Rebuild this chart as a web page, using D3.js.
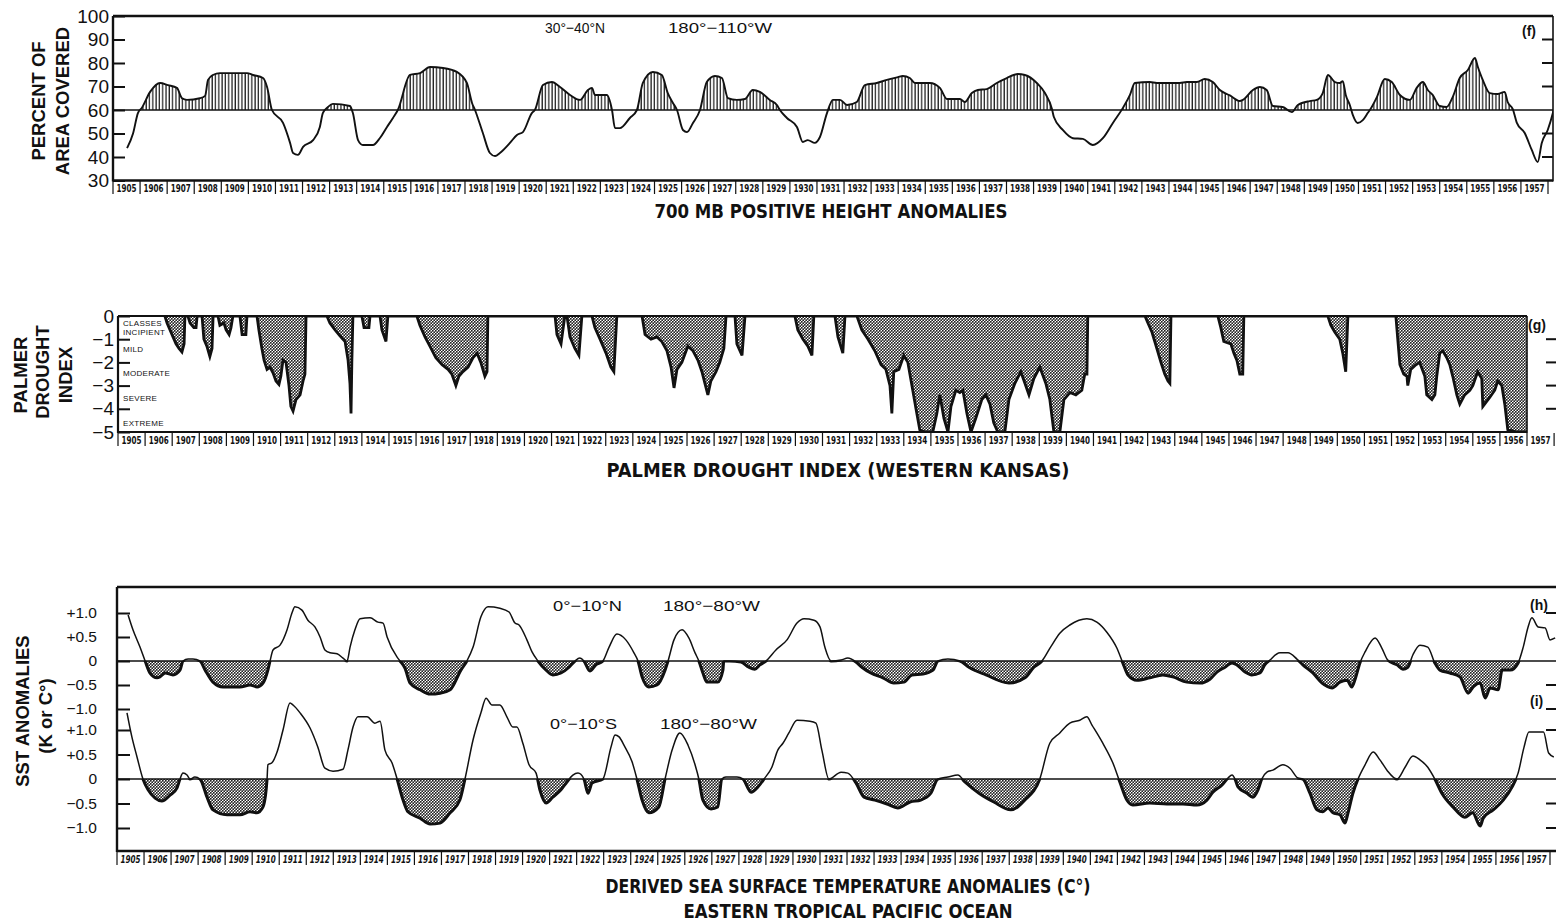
<!DOCTYPE html>
<html>
<head>
<meta charset="utf-8">
<script src="https://cdn.jsdelivr.net/npm/d3@7"></script>
<style>
  body { margin: 0; background: #fff; }
  svg { display: block; }
  .sans { font-family: "Liberation Sans", Arial, Helvetica, sans-serif; fill: #111; }
  .narrow { font-family: "Liberation Sans Narrow", "DejaVu Sans Condensed", "Liberation Sans", sans-serif; fill: #111; }
</style>
</head>
<body>
<svg id="chart" width="1556" height="922"></svg>
<script>
// ---------------------------------------------------------------
// Data
// ---------------------------------------------------------------
const yearLabels = [1905,1906,1907,1908,1909,1910,1911,1912,1913,1914,1915,1916,1917,1918,1919,
  1920,1921,1922,1923,1924,1925,1926,1927,1928,1929,1930,1931,1932,1933,1934,1935,1936,1937,1938,
  1939,1940,1941,1942,1943,1944,1945,1946,1947,1948,1949,1950,1951,1952,1953,1954,1955,1956,1957];

// (f) percent of area 30-40N, 180-110W covered by positive 700 mb height anomalies  [year, percent]
const areaCovered = [
  [1905.52,43.8],[1905.74,50],[1905.92,58.7],[1906.07,61],[1906.37,67.7],[1906.74,71.5],[1907.03,70.6],
  [1907.36,69.4],[1907.55,65],[1907.73,64.3],[1908.21,65],[1908.4,66],[1908.51,72.8],[1908.69,74.9],
  [1908.95,75.7],[1909.69,75.7],[1909.95,75.7],[1910.17,74.9],[1910.54,73.6],[1910.69,69.8],[1910.87,60],
  [1911.28,54.5],[1911.54,46],[1911.65,41.7],[1911.83,40.9],[1912.02,44.3],[1912.39,47.2],[1912.64,52.8],
  [1912.75,58.7],[1912.94,61.3],[1913.12,62.6],[1913.75,61.7],[1913.86,58.7],[1914.05,47.2],[1914.23,45.1],
  [1914.6,45.1],[1914.86,48.1],[1915.12,52.8],[1915.34,56.6],[1915.52,60],[1915.97,74.9],[1916.34,75.7],
  [1916.71,78.3],[1917.19,77.9],[1917.7,76.2],[1918.07,71.5],[1918.26,63],[1918.37,60],[1918.66,50.2],
  [1918.92,41.7],[1919.11,40.4],[1919.29,41.7],[1919.66,46],[1919.92,49.4],[1920.14,50.6],[1920.47,58.7],
  [1920.58,60],[1920.88,70.6],[1921.21,71.9],[1921.51,69.8],[1921.88,66.4],[1922.25,64.3],[1922.54,68.5],
  [1922.69,69.4],[1922.8,66.4],[1923.24,66.4],[1923.43,60],[1923.54,52.3],[1923.72,52.3],[1924.09,56.6],
  [1924.35,60],[1924.57,71.5],[1924.94,76.2],[1925.27,74.9],[1925.49,67.2],[1925.68,63],[1925.83,60],
  [1926.05,51.5],[1926.2,50.6],[1926.42,54.5],[1926.68,60],[1926.93,71.9],[1927.23,74.5],[1927.49,73.6],
  [1927.71,65.1],[1928.04,64.3],[1928.34,64.7],[1928.63,68.5],[1928.89,67.7],[1929.26,64.3],[1929.52,62.1],
  [1929.63,60],[1929.89,56.6],[1930.26,52.8],[1930.48,46.4],[1930.66,47.2],[1930.92,46],[1931.11,48.5],
  [1931.37,58.7],[1931.59,64.3],[1931.85,64.3],[1932.11,62.1],[1932.47,63.4],[1932.77,70.6],[1933.21,71.5],
  [1933.58,72.8],[1933.99,74],[1934.17,74.5],[1934.43,73.6],[1934.62,71.5],[1935.17,71.5],[1935.54,69.4],
  [1935.8,64.7],[1936.28,64.7],[1936.46,63.4],[1936.72,67.2],[1936.94,68.5],[1937.27,68.9],[1937.64,71.5],
  [1938.01,73.6],[1938.42,75.3],[1938.68,74.9],[1939.12,71.5],[1939.42,67.2],[1939.68,60.4],[1939.75,57],
  [1940.08,51.5],[1940.45,48],[1940.82,47.7],[1941.19,45.1],[1941.56,48],[1941.93,54.5],[1942.3,60.9],
  [1942.56,66.4],[1942.74,71.5],[1943.29,71.9],[1943.55,71.5],[1944.4,71.5],[1944.66,71.9],[1945.03,71.9],
  [1945.32,73.2],[1945.62,71.9],[1945.88,68.5],[1946.25,66.2],[1946.62,63.8],[1946.73,64.3],[1947.1,68.5],
  [1947.36,69.8],[1947.61,68.5],[1947.84,61.7],[1948.2,61.3],[1948.54,59.1],[1948.76,62.1],[1949.2,63.8],
  [1949.46,64.3],[1949.68,67.2],[1949.87,74.9],[1950.13,71.9],[1950.31,71.5],[1950.42,72.3],[1950.53,66.4],
  [1950.68,62.1],[1950.79,57.9],[1950.97,54.5],[1951.16,55.7],[1951.34,58.7],[1951.49,61.3],[1951.68,65.5],
  [1951.97,73.2],[1952.23,71.9],[1952.53,66.4],[1952.9,64.3],[1953.15,69.4],[1953.38,71.9],[1953.56,68.5],
  [1953.74,66.4],[1954,61.7],[1954.26,61.3],[1954.48,65.5],[1954.74,73.6],[1955.04,77],[1955.3,82.1],
  [1955.41,78.3],[1955.59,72.8],[1955.85,67.2],[1956.15,66.8],[1956.4,67.7],[1956.51,63.4],[1956.7,60.4],
  [1956.85,54.5],[1957.14,50.2],[1957.4,43],[1957.62,37.9],[1957.77,46],[1957.99,51.5],[1958.18,58.7],
  [1958.25,62.1]
];

// (g) Palmer drought index, western Kansas  [year, index]; 0 between drought spells
const pdi = [
  [1906.73,0],[1906.81,-0.3],[1906.92,-0.6],[1907.03,-0.9],[1907.14,-1.2],[1907.25,-1.4],[1907.36,-1.55],[1907.44,-1.2],[1907.47,0],
  [1907.58,0],[1907.66,-0.3],[1907.8,-0.5],[1907.88,-0.5],[1907.92,0],
  [1908.1,0],[1908.17,-1.0],[1908.28,-1.3],[1908.39,-1.75],[1908.47,-1.4],[1908.51,0],
  [1908.69,0],[1908.76,-0.4],[1908.91,-0.3],[1908.99,-0.6],[1909.1,-0.8],[1909.17,-0.5],[1909.24,0],
  [1909.5,0],[1909.58,-0.8],[1909.72,-0.8],[1909.76,0],
  [1910.13,0],[1910.2,-0.6],[1910.31,-1.4],[1910.39,-1.9],[1910.5,-2.3],[1910.61,-2.2],[1910.72,-2.45],[1910.83,-2.8],
  [1910.94,-2.95],[1911.01,-2.6],[1911.09,-1.9],[1911.2,-2.0],[1911.31,-3.0],[1911.38,-3.9],[1911.46,-4.1],[1911.57,-3.6],
  [1911.72,-3.4],[1911.83,-2.8],[1911.9,-2.5],[1911.94,0],
  [1912.71,0],[1912.82,-0.3],[1913.01,-0.6],[1913.19,-0.85],[1913.38,-1.1],[1913.49,-1.9],[1913.56,-2.9],[1913.6,-4.2],[1913.63,-2.0],[1913.67,0],
  [1914,0],[1914.08,-0.5],[1914.26,-0.5],[1914.3,0],
  [1914.67,0],[1914.74,-0.6],[1914.89,-1.1],[1914.96,0],
  [1916.03,0],[1916.14,-0.4],[1916.33,-0.9],[1916.51,-1.3],[1916.73,-1.8],[1916.96,-2.1],[1917.18,-2.3],[1917.32,-2.5],
  [1917.47,-3.0],[1917.58,-2.6],[1917.73,-2.4],[1917.92,-2.2],[1918.1,-1.8],[1918.25,-1.6],[1918.39,-2.0],[1918.54,-2.6],
  [1918.62,-2.4],[1918.65,0],
  [1921.13,0],[1921.2,-0.8],[1921.35,-1.2],[1921.49,0],
  [1921.57,0],[1921.68,-0.9],[1921.86,-1.4],[1922.01,-1.7],[1922.12,0],
  [1922.49,0],[1922.6,-0.5],[1922.79,-1.0],[1923.01,-1.6],[1923.19,-2.2],[1923.3,-2.4],[1923.41,0],
  [1924.34,0],[1924.45,-0.8],[1924.67,-1.0],[1924.89,-0.9],[1925.07,-1.1],[1925.26,-1.5],[1925.41,-2.2],[1925.52,-3.1],
  [1925.63,-2.3],[1925.81,-2.0],[1926.03,-1.3],[1926.22,-1.5],[1926.4,-1.9],[1926.55,-2.4],[1926.66,-2.9],[1926.77,-3.4],
  [1926.88,-2.8],[1927.07,-2.4],[1927.21,-2.0],[1927.36,-1.4],[1927.44,0],
  [1927.77,0],[1927.84,-1.2],[1928.03,-1.7],[1928.14,0],
  [1929.98,0],[1930.09,-0.6],[1930.28,-1.0],[1930.46,-1.3],[1930.61,-1.7],[1930.68,0],
  [1931.46,0],[1931.57,-0.9],[1931.75,-1.6],[1931.83,0],
  [1932.27,0],[1932.45,-0.6],[1932.68,-1.0],[1932.93,-1.5],[1933.16,-2.1],[1933.34,-2.3],[1933.49,-3.0],[1933.56,-4.2],
  [1933.63,-2.4],[1933.82,-2.3],[1934,-1.7],[1934.15,-2.0],[1934.3,-3.0],[1934.45,-4.0],[1934.59,-4.9],[1934.78,-5],
  [1935.07,-5],[1935.22,-4.2],[1935.33,-3.4],[1935.48,-4.4],[1935.63,-5],[1935.74,-3.9],[1935.92,-3.2],[1936.07,-3.3],
  [1936.18,-3.2],[1936.33,-4.2],[1936.48,-5],[1936.66,-4.4],[1936.88,-3.6],[1937.03,-3.4],[1937.18,-3.8],[1937.32,-4.6],
  [1937.47,-5],[1937.73,-5],[1937.88,-3.6],[1938.1,-2.9],[1938.32,-2.4],[1938.47,-2.9],[1938.62,-3.4],[1938.8,-2.7],
  [1939.02,-2.2],[1939.24,-2.9],[1939.39,-3.6],[1939.54,-5],[1939.76,-5],[1939.91,-3.6],[1940.13,-3.3],[1940.35,-3.4],
  [1940.57,-3.2],[1940.68,-2.5],[1940.76,-2.5],[1940.79,0],
  [1942.9,0],[1943.01,-0.3],[1943.16,-0.7],[1943.34,-1.4],[1943.49,-2.0],[1943.63,-2.5],[1943.75,-2.8],[1943.82,-2.9],[1943.86,0],
  [1945.59,0],[1945.7,-0.5],[1945.81,-1.1],[1946.07,-1.2],[1946.18,-1.6],[1946.29,-1.9],[1946.4,-2.5],[1946.51,-2.5],[1946.55,0],
  [1949.65,0],[1949.76,-0.4],[1949.91,-0.7],[1950.09,-1.0],[1950.2,-1.6],[1950.31,-2.4],[1950.39,0],
  [1952.16,0],[1952.23,-1.0],[1952.31,-2.1],[1952.45,-2.5],[1952.57,-2.6],[1952.6,-3.0],[1952.71,-2.3],[1952.9,-2.1],
  [1953.04,-2.0],[1953.23,-2.6],[1953.3,-3.4],[1953.49,-3.6],[1953.6,-3.4],[1953.67,-2.6],[1953.78,-1.6],[1953.89,-1.5],
  [1954.04,-1.8],[1954.15,-2.1],[1954.26,-2.6],[1954.41,-3.4],[1954.52,-3.8],[1954.7,-3.4],[1954.89,-3.2],[1955,-3.0],
  [1955.18,-2.4],[1955.33,-2.7],[1955.37,-3.9],[1955.63,-3.5],[1955.81,-3.2],[1955.92,-2.8],[1956.07,-3.0],[1956.18,-3.8],
  [1956.29,-4.9],[1956.62,-5],[1957,-5]
];
const droughtClasses = ["CLASSES", "INCIPIENT", "MILD", "MODERATE", "SEVERE", "EXTREME"];

// (h) SST anomaly 0-10N, 180-80W  [year, K]
const sstNorth = [
  [1905.41,0.96],[1905.59,0.65],[1905.85,0.29],[1906.04,0],[1906.22,-0.25],[1906.48,-0.35],[1906.59,-0.33],[1906.78,-0.25],
  [1907.07,-0.29],[1907.33,-0.19],[1907.44,0],[1907.63,0.04],[1907.81,0.04],[1908.07,0],[1908.26,-0.19],[1908.55,-0.44],
  [1908.92,-0.54],[1909.55,-0.54],[1909.92,-0.5],[1910.18,-0.54],[1910.4,-0.46],[1910.58,-0.19],[1910.66,0],[1910.77,0.23],
  [1911.03,0.33],[1911.29,0.65],[1911.47,1.0],[1911.58,1.13],[1911.84,1.06],[1912.06,0.85],[1912.32,0.71],[1912.51,0.5],
  [1912.69,0.23],[1912.88,0.17],[1913.14,0.15],[1913.36,0.06],[1913.51,0],[1913.62,0.29],[1913.8,0.65],[1913.99,0.88],
  [1914.36,0.9],[1914.65,0.81],[1914.84,0.79],[1914.99,0.5],[1915.36,0.08],[1915.47,0],[1915.65,-0.15],[1915.84,-0.46],
  [1916.21,-0.6],[1916.58,-0.69],[1916.95,-0.67],[1917.32,-0.6],[1917.72,-0.19],[1917.94,0],[1918.17,0.29],[1918.46,0.92],
  [1918.72,1.13],[1919.16,1.1],[1919.5,1.02],[1919.72,0.79],[1919.87,0.75],[1920.16,0.44],[1920.35,0.19],[1920.57,0],
  [1920.87,-0.19],[1921.12,-0.29],[1921.42,-0.25],[1921.72,-0.13],[1921.94,0],[1922.12,0.06],[1922.27,0],[1922.49,-0.21],
  [1922.71,-0.08],[1922.97,0],[1923.2,0.29],[1923.49,0.56],[1923.82,0.44],[1924.12,0.17],[1924.27,0],[1924.42,-0.33],
  [1924.67,-0.54],[1924.97,-0.5],[1925.27,-0.19],[1925.38,0],[1925.6,0.44],[1925.9,0.65],[1926.15,0.48],[1926.38,0.17],
  [1926.52,0],[1926.67,-0.25],[1926.82,-0.44],[1927.22,-0.44],[1927.41,-0.19],[1927.44,0],[1927.66,0],[1928.08,-0.02],
  [1928.37,-0.13],[1928.59,-0.17],[1928.78,-0.08],[1929,0],[1929.37,0.23],[1929.78,0.44],[1930.15,0.79],[1930.41,0.88],
  [1930.78,0.85],[1931,0.71],[1931.18,0.29],[1931.41,0],[1931.78,0.02],[1932.03,0.06],[1932.33,-0.02],[1932.55,-0.13],
  [1932.88,-0.25],[1933.33,-0.35],[1933.73,-0.46],[1934.1,-0.44],[1934.4,-0.29],[1934.81,-0.27],[1935.18,-0.19],[1935.36,0],
  [1935.73,0.04],[1936.18,0],[1936.51,-0.13],[1937.14,-0.29],[1937.99,-0.46],[1938.58,-0.35],[1938.91,-0.13],[1939.21,0],
  [1939.54,0.3],[1939.87,0.58],[1940.24,0.75],[1940.87,0.88],[1941.24,0.81],[1941.61,0.6],[1941.98,0.27],[1942.2,-0.04],
  [1942.39,-0.29],[1942.72,-0.4],[1943.2,-0.35],[1943.68,-0.29],[1944.05,-0.33],[1944.57,-0.44],[1945.05,-0.46],[1945.42,-0.38],
  [1945.68,-0.23],[1945.98,-0.13],[1946.24,-0.04],[1946.42,-0.08],[1946.72,-0.23],[1946.97,-0.29],[1947.27,-0.25],[1947.45,-0.08],
  [1947.64,0.02],[1948.01,0.17],[1948.31,0.17],[1948.64,0.04],[1948.86,-0.08],[1949.23,-0.25],[1949.57,-0.46],[1949.94,-0.56],
  [1950.23,-0.44],[1950.49,-0.4],[1950.67,-0.54],[1950.78,-0.4],[1950.97,-0.04],[1951.16,0.19],[1951.53,0.48],[1951.78,0.27],
  [1952,0.02],[1952.34,-0.08],[1952.56,-0.17],[1952.74,-0.13],[1952.93,0.13],[1953.19,0.33],[1953.48,0.29],[1953.74,-0.04],
  [1953.93,-0.19],[1954.3,-0.25],[1954.67,-0.33],[1954.97,-0.67],[1955.16,-0.54],[1955.42,-0.46],[1955.6,-0.77],[1955.79,-0.56],
  [1956.08,-0.6],[1956.23,-0.19],[1956.53,-0.19],[1956.82,-0.04],[1957.01,0.29],[1957.19,0.71],[1957.33,0.9],[1957.56,0.71],
  [1957.82,0.69],[1958.0,0.44],[1958.19,0.48]
];

// (i) SST anomaly 0-10S, 180-80W  [year, K]
const sstSouth = [
  [1905.37,1.35],[1905.55,0.86],[1905.74,0.45],[1905.96,0],[1906.15,-0.22],[1906.41,-0.39],[1906.66,-0.45],[1906.96,-0.33],
  [1907.22,-0.18],[1907.33,0],[1907.44,0.12],[1907.59,0.08],[1907.7,0],[1907.88,0.04],[1908.07,0],[1908.33,-0.37],
  [1908.55,-0.63],[1909.07,-0.73],[1909.55,-0.73],[1909.92,-0.67],[1910.18,-0.69],[1910.4,-0.57],[1910.55,0],[1910.58,0.29],
  [1910.73,0.33],[1910.92,0.55],[1911.14,1.0],[1911.4,1.55],[1911.51,1.51],[1911.77,1.35],[1912.14,1.04],[1912.43,0.65],
  [1912.69,0.22],[1912.99,0.16],[1913.36,0.2],[1913.54,0.59],[1913.73,1.06],[1913.91,1.27],[1914.25,1.27],[1914.54,1.14],
  [1914.73,1.18],[1914.91,0.59],[1915.17,0.33],[1915.36,0],[1915.58,-0.43],[1915.76,-0.67],[1916.21,-0.8],[1916.58,-0.92],
  [1916.95,-0.9],[1917.32,-0.69],[1917.68,-0.43],[1917.87,0],[1918.17,0.8],[1918.46,1.35],[1918.65,1.65],[1918.87,1.51],
  [1919.16,1.51],[1919.42,1.27],[1919.64,1.06],[1919.79,1.06],[1920.01,0.73],[1920.24,0.29],[1920.5,0.12],[1920.64,-0.22],
  [1920.87,-0.49],[1921.12,-0.37],[1921.42,-0.22],[1921.64,-0.06],[1921.86,0.08],[1922.05,0.12],[1922.27,0],[1922.42,-0.29],
  [1922.57,-0.08],[1922.97,0],[1923.27,0.65],[1923.42,0.9],[1923.57,0.86],[1923.75,0.69],[1924.05,0.35],[1924.23,0],
  [1924.42,-0.43],[1924.67,-0.69],[1925.04,-0.57],[1925.27,0],[1925.53,0.59],[1925.82,0.94],[1926.12,0.69],[1926.38,0.29],
  [1926.52,0],[1926.67,-0.43],[1926.97,-0.61],[1927.22,-0.57],[1927.37,0],[1927.52,0.04],[1927.93,0.04],[1928.15,0],
  [1928.45,-0.27],[1928.71,-0.16],[1928.93,0],[1929.22,0.24],[1929.44,0.59],[1929.63,0.73],[1929.85,0.94],[1930.15,1.2],
  [1930.63,1.18],[1930.85,1.14],[1931.07,0.59],[1931.33,0],[1931.78,0.14],[1932.03,0.12],[1932.33,-0.08],[1932.63,-0.37],
  [1933.03,-0.43],[1933.48,-0.51],[1933.88,-0.59],[1934.33,-0.47],[1934.73,-0.43],[1935.1,-0.29],[1935.36,0],[1935.73,0.04],
  [1936.1,0.08],[1936.36,-0.06],[1936.88,-0.29],[1937.43,-0.47],[1938.06,-0.63],[1938.58,-0.43],[1939.13,0],[1939.5,0.73],
  [1939.87,0.94],[1940.24,1.14],[1940.61,1.2],[1940.87,1.27],[1941.06,1.1],[1941.46,0.73],[1941.83,0.33],[1942.09,-0.06],
  [1942.35,-0.43],[1942.57,-0.53],[1943.2,-0.49],[1943.83,-0.51],[1944.42,-0.51],[1944.94,-0.53],[1945.31,-0.43],[1945.53,-0.27],
  [1945.87,-0.12],[1946.09,0.02],[1946.24,0.08],[1946.35,0],[1946.46,-0.16],[1946.79,-0.29],[1947.01,-0.37],[1947.2,-0.22],
  [1947.34,0],[1947.53,0.14],[1947.75,0.18],[1948.12,0.29],[1948.38,0.22],[1948.68,0.02],[1948.86,0],[1949.12,-0.29],
  [1949.38,-0.63],[1949.6,-0.67],[1949.79,-0.59],[1949.97,-0.69],[1950.23,-0.73],[1950.42,-0.9],[1950.53,-0.69],[1950.71,-0.29],
  [1950.9,0],[1951.16,0.29],[1951.46,0.55],[1951.71,0.39],[1951.97,0.18],[1952.34,0],[1952.64,0.24],[1952.93,0.47],
  [1953.19,0.39],[1953.48,0.24],[1953.74,0],[1954,-0.29],[1954.41,-0.57],[1954.85,-0.78],[1955.14,-0.69],[1955.42,-0.96],
  [1955.53,-0.8],[1955.9,-0.63],[1956.27,-0.43],[1956.6,-0.16],[1956.82,0.12],[1957.04,0.65],[1957.22,0.96],[1957.55,0.96],
  [1957.76,0.96],[1957.95,0.53],[1958.14,0.45]
];

const ticksF = [30,40,50,60,70,80,90,100];
const ticksG = [0,-1,-2,-3,-4,-5];
const ticksSST = [-1,-0.5,0,0.5,1];

// ---------------------------------------------------------------
// Drawing
// ---------------------------------------------------------------
const svg = d3.select("#chart");
const defs = svg.append("defs");
const INK = "#111";

// vertical hatching for the (f) excess area
const hatch = defs.append("pattern").attr("id", "hatch")
  .attr("patternUnits", "userSpaceOnUse").attr("width", 3.3).attr("height", 8);
hatch.append("line").attr("x1", 1).attr("x2", 1).attr("y1", 0).attr("y2", 8)
  .attr("stroke", INK).attr("stroke-width", 1.2);

// halftone stipple used for drought and cold anomalies
const stip = defs.append("pattern").attr("id", "stipple")
  .attr("patternUnits", "userSpaceOnUse").attr("width", 3).attr("height", 3);
stip.append("circle").attr("cx", 0.75).attr("cy", 0.75).attr("r", 0.95).attr("fill", "#222");
stip.append("circle").attr("cx", 2.25).attr("cy", 2.25).attr("r", 0.95).attr("fill", "#222");

function clipRect(id, x0, y0, x1, y1) {
  defs.append("clipPath").attr("id", id).append("rect")
    .attr("x", x0).attr("y", y0).attr("width", x1 - x0).attr("height", y1 - y0);
}
function hline(g, x0, x1, y, w) {
  g.append("line").attr("x1", x0).attr("x2", x1).attr("y1", y).attr("y2", y)
    .attr("stroke", INK).attr("stroke-width", w || 1);
}
function vline(g, x, y0, y1, w) {
  g.append("line").attr("x1", x).attr("x2", x).attr("y1", y0).attr("y2", y1)
    .attr("stroke", INK).attr("stroke-width", w || 1);
}
function text(g, str, x, y, size, cls, opts = {}) {
  const t = g.append("text").attr("class", cls).attr("x", x).attr("y", y)
    .attr("font-size", size).attr("text-anchor", opts.anchor || "start").text(str);
  if (opts.weight) t.attr("font-weight", opts.weight);
  if (opts.len) t.attr("textLength", opts.len).attr("lengthAdjust", "spacingAndGlyphs");
  if (opts.rotate) t.attr("transform", `rotate(-90,${x},${y})`).attr("dominant-baseline", "central");
  if (opts.italic) t.attr("font-style", "italic");
  if (opts.spacing) t.attr("letter-spacing", opts.spacing);
  return t;
}
// boxed year strip under each panel
function yearStrip(g, x, yTop, italic) {
  yearLabels.forEach(yr => {
    vline(g, x(yr), yTop, yTop + 13, 1.2);
    text(g, String(yr), x(yr + 0.5), yTop + 11, 10.5, "narrow",
      { anchor: "middle", len: 20, italic: italic, weight: "bold" });
  });
  vline(g, x(yearLabels[yearLabels.length - 1] + 1), yTop, yTop + 13, 1.2);
}
function leftAxis(g, scale, x, values, fmt, size, pad, tick) {
  const ax = g.append("g").attr("transform", `translate(${x},0)`)
    .call(d3.axisLeft(scale).tickValues(values).tickFormat(fmt)
      .tickSizeInner(-tick).tickSizeOuter(0).tickPadding(pad));
  ax.select(".domain").remove();
  ax.selectAll("line").attr("stroke", INK).attr("stroke-width", 2);
  ax.selectAll("text").attr("class", "sans").attr("font-size", size).attr("fill", INK);
  return ax;
}
function rightTicks(g, scale, x0, x1, values) {
  values.forEach(v => hline(g, x0, x1, scale(v), 2));
}

// ================= (f) 700 mb positive height anomalies =================
{
  const g = svg.append("g");
  const x = d3.scaleLinear().domain([1905, 1958]).range([113, 1548]);
  const y = d3.scaleLinear().domain([30, 100]).range([180.5, 16]);
  const right = 1553;
  clipRect("clipF", 113, 16, right, 181);
  clipRect("clipFup", 113, 16, right, y(60));

  const area = d3.area().x(d => x(d[0])).y0(y(60)).y1(d => y(d[1])).curve(d3.curveMonotoneX);
  const line = d3.line().x(d => x(d[0])).y(d => y(d[1])).curve(d3.curveMonotoneX);

  g.append("path").datum(areaCovered).attr("d", area).attr("fill", "url(#hatch)")
    .attr("clip-path", "url(#clipFup)");
  hline(g, 113, right, y(60), 1.4);
  g.append("path").datum(areaCovered).attr("d", line).attr("fill", "none")
    .attr("stroke", INK).attr("stroke-width", 1.9).attr("clip-path", "url(#clipF)");

  hline(g, 113, right, y(100), 2.4);
  hline(g, 113, right, y(30), 2.4);
  vline(g, 113, y(100), y(30) + 1, 2.4);
  vline(g, right, y(100), y(30) + 1, 1.6);

  leftAxis(g, y, 113, ticksF, d => d, 19, 4, 12);
  rightTicks(g, y, right - 11, right, [90, 80, 70, 50, 40]);
  yearStrip(g, x, 181, false);

  text(g, "PERCENT OF", 38, 101, 18.5, "sans", { anchor: "middle", rotate: true, weight: "bold" });
  text(g, "AREA COVERED", 62, 101, 18.5, "sans", { anchor: "middle", rotate: true, weight: "bold" });
  text(g, "30°−40°N", 545, 33, 15, "sans", { len: 60 });
  text(g, "180°−110°W", 668, 33, 15, "sans", { len: 104 });
  text(g, "(f)", 1522, 36, 14, "sans", { weight: "bold" });
  text(g, "700 MB POSITIVE HEIGHT ANOMALIES", 831, 218, 19, "narrow",
    { anchor: "middle", weight: "bold", len: 353 });
}

// ================= (g) Palmer drought index =================
{
  const g = svg.append("g");
  const x = d3.scaleLinear().domain([1905, 1957]).range([118, 1527]);
  const y = d3.scaleLinear().domain([-5, 0]).range([432, 316]);
  clipRect("clipG", 118, 316, x(1957), 432);

  const area = d3.area().x(d => x(d[0])).y0(y(0)).y1(d => y(d[1]));
  const line = d3.line().x(d => x(d[0])).y(d => y(d[1]));
  const cg = g.append("g").attr("clip-path", "url(#clipG)");
  cg.append("path").datum(pdi).attr("d", area).attr("fill", "url(#stipple)");
  cg.append("path").datum(pdi).attr("d", line).attr("fill", "none")
    .attr("stroke", INK).attr("stroke-width", 2.8).attr("stroke-linejoin", "miter");

  hline(g, 118, x(1957), y(0), 2.2);
  hline(g, 118, x(1957), y(-5), 2.2);
  vline(g, 118, y(0), y(-5) + 1, 2.2);
  vline(g, x(1957), y(0), y(-5) + 1, 1.6);

  leftAxis(g, y, 118, ticksG, d => d === 0 ? "0" : d3.format("d")(d), 19, 4, 12);
  rightTicks(g, y, 1546, 1556, [-1, -2, -3, -4]);
  yearStrip(g, x, 433, false);

  const classY = [326, 335, 352, 376, 401, 426];
  droughtClasses.forEach((c, i) => text(g, c, 123, classY[i], 8, "sans", { spacing: 0.3 }));

  text(g, "PALMER", 20, 375, 18.5, "sans", { anchor: "middle", rotate: true, weight: "bold" });
  text(g, "DROUGHT", 42, 372, 18.5, "sans", { anchor: "middle", rotate: true, weight: "bold" });
  text(g, "INDEX", 65, 375, 18.5, "sans", { anchor: "middle", rotate: true, weight: "bold" });
  text(g, "(g)", 1528, 330, 14, "sans", { weight: "bold" });
  text(g, "PALMER DROUGHT INDEX (WESTERN KANSAS)", 838, 477, 19, "narrow",
    { anchor: "middle", weight: "bold", len: 463 });
}

// ================= (h), (i) sea surface temperature anomalies =================
{
  const g = svg.append("g");
  const x = d3.scaleLinear().domain([1905, 1958]).range([117, 1550]);
  const yH = d3.scaleLinear().domain([-1, 1]).range([709, 613]);
  const yI = d3.scaleLinear().domain([-1, 1]).range([828, 730]);
  const right = 1556;
  clipRect("clipS", 117, 588, right, 850);
  clipRect("clipHneg", 117, yH(0), right, yH(-1.4));
  clipRect("clipIneg", 117, yI(0), right, yI(-1.4));

  [[sstNorth, yH, "clipHneg"], [sstSouth, yI, "clipIneg"]].forEach(([data, y, neg]) => {
    const area = d3.area().x(d => x(d[0])).y0(y(0)).y1(d => y(d[1])).curve(d3.curveMonotoneX);
    const line = d3.line().x(d => x(d[0])).y(d => y(d[1])).curve(d3.curveMonotoneX);
    g.append("path").datum(data).attr("d", area).attr("fill", "url(#stipple)")
      .attr("clip-path", `url(#${neg})`);
    hline(g, 117, right, y(0), 1.5);
    g.append("path").datum(data).attr("d", line).attr("fill", "none")
      .attr("stroke", INK).attr("stroke-width", 1.5).attr("clip-path", "url(#clipS)");
    g.append("path").datum(data).attr("d", line).attr("fill", "none")
      .attr("stroke", INK).attr("stroke-width", 3).attr("clip-path", `url(#${neg})`);
  });

  hline(g, 117, right, 587, 2.4);
  hline(g, 117, right, 851, 2.4);
  vline(g, 117, 587, 852, 2.4);

  const fmtSST = d => d === 0 ? "0" : d3.format("+.1f")(d);
  leftAxis(g, yH, 117, ticksSST, fmtSST, 15.5, 20, 13);
  leftAxis(g, yI, 117, ticksSST, fmtSST, 15.5, 20, 13);
  rightTicks(g, yH, 1546, 1556, [1, -0.5, -1]);
  rightTicks(g, yI, 1546, 1556, [1, -0.5, -1]);
  yearStrip(g, x, 852, true);

  text(g, "SST ANOMALIES", 22, 711, 18.5, "sans", { anchor: "middle", rotate: true, weight: "bold" });
  text(g, "(K or C°)", 45, 716, 18.5, "sans", { anchor: "middle", rotate: true, weight: "bold" });
  text(g, "0°−10°N", 553, 611, 15, "sans", { len: 69 });
  text(g, "180°−80°W", 663, 611, 15, "sans", { len: 97 });
  text(g, "0°−10°S", 550, 729, 15, "sans", { len: 67 });
  text(g, "180°−80°W", 660, 729, 15, "sans", { len: 97 });
  text(g, "(h)", 1530, 610, 14, "sans", { weight: "bold" });
  text(g, "(i)", 1530, 706, 14, "sans", { weight: "bold" });
  text(g, "DERIVED SEA SURFACE TEMPERATURE ANOMALIES (C°)", 848, 893, 19, "narrow",
    { anchor: "middle", weight: "bold", len: 485 });
  text(g, "EASTERN TROPICAL PACIFIC OCEAN", 848, 918, 19, "narrow",
    { anchor: "middle", weight: "bold", len: 329 });
}
</script>
</body>
</html>
